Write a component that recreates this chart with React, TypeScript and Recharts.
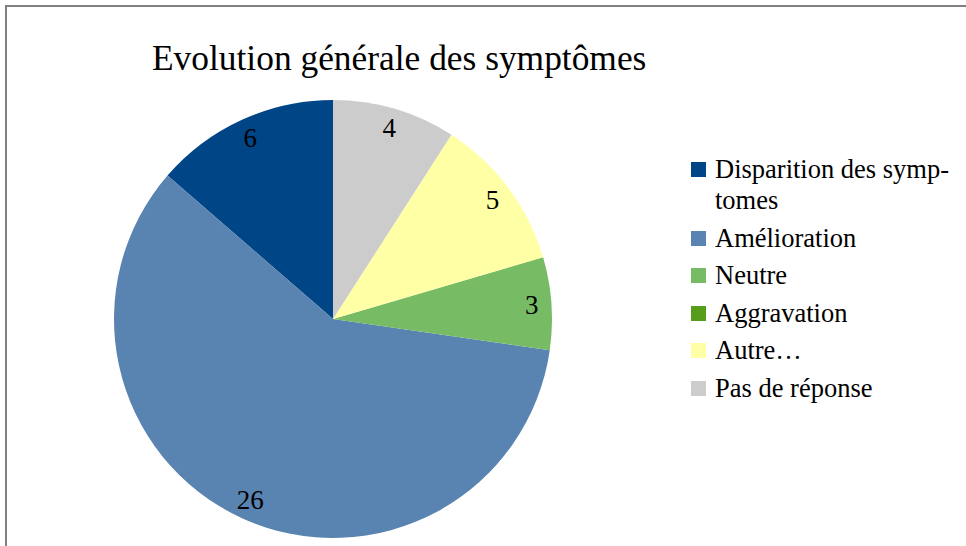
import React from "react";
import { PieChart, Pie, Cell, Legend } from "recharts";

const categories = [
  "Disparition des symptomes",
  "Amélioration",
  "Neutre",
  "Aggravation",
  "Autre…",
  "Pas de réponse",
];
const legendLines: string[][] = [
  ["Disparition des symp-", "tomes"],
  ["Amélioration"],
  ["Neutre"],
  ["Aggravation"],
  ["Autre…"],
  ["Pas de réponse"],
];
const values = [6, 26, 3, 0, 5, 4];
const colors = ["#004586", "#5983B0", "#77BC65", "#579D1C", "#FFFFA6", "#CCCCCC"];
const title = "Evolution générale des symptômes";

const data = categories.map((name, i) => ({ name, value: values[i] }));

const FONT = '"Liberation Serif", "Times New Roman", serif';
const RAD = Math.PI / 180;

const renderLabel = (props: any) => {
  const { cx, cy, midAngle, outerRadius, value } = props;
  if (!value) return null;
  const r = outerRadius * 0.91;
  const x = cx + r * Math.cos(-midAngle * RAD);
  const y = cy + r * Math.sin(-midAngle * RAD);
  return (
    <text
      x={x}
      y={y}
      textAnchor="middle"
      dominantBaseline="central"
      fontFamily={FONT}
      fontSize={27}
      fill="#000"
    >
      {value}
    </text>
  );
};

const renderLegend = () => (
  <div style={{ fontFamily: FONT, fontSize: 26.5, color: "#000" }}>
    {legendLines.map((lines, i) => (
      <div key={i} style={{ display: "flex", alignItems: "flex-start", marginBottom: 6.5 }}>
        <div
          style={{
            width: 15,
            height: 15,
            background: colors[i],
            marginTop: 8,
            marginRight: 9,
            flexShrink: 0,
          }}
        />
        <div style={{ lineHeight: "31px" }}>
          {lines.map((l, j) => (
            <div key={j}>{l}</div>
          ))}
        </div>
      </div>
    ))}
  </div>
);

export default function App() {
  return (
    <div
      style={{
        position: "fixed",
        left: 0,
        top: 0,
        width: 966,
        height: 546,
        background: "#fff",
        overflow: "hidden",
      }}
    >
      <div
        style={{
          position: "absolute",
          left: 5,
          top: 5,
          width: 1000,
          height: 600,
          borderLeft: "2px solid #808080",
          borderTop: "2px solid #808080",
        }}
      />
      <div
        style={{
          position: "absolute",
          left: 152,
          top: 37,
          fontFamily: FONT,
          fontSize: 35.4,
          color: "#000",
          whiteSpace: "nowrap",
          lineHeight: "42px",
        }}
      >
        {title}
      </div>
      <div style={{ position: "absolute", left: 0, top: 0 }}>
        <PieChart width={966} height={546} margin={{ top: 0, right: 0, bottom: 0, left: 0 }}>
          <Pie
            data={data}
            dataKey="value"
            nameKey="name"
            cx={333}
            cy={319}
            outerRadius={219}
            startAngle={90}
            endAngle={450}
            stroke="none"
            label={renderLabel}
            labelLine={false}
            isAnimationActive={false}
          >
            {data.map((d, i) => (
              <Cell key={i} fill={colors[i]} />
            ))}
          </Pie>
          <Legend
            layout="vertical"
            content={renderLegend}
            wrapperStyle={{ position: "absolute", left: 691, top: 154, width: 275 }}
          />
        </PieChart>
      </div>
    </div>
  );
}
